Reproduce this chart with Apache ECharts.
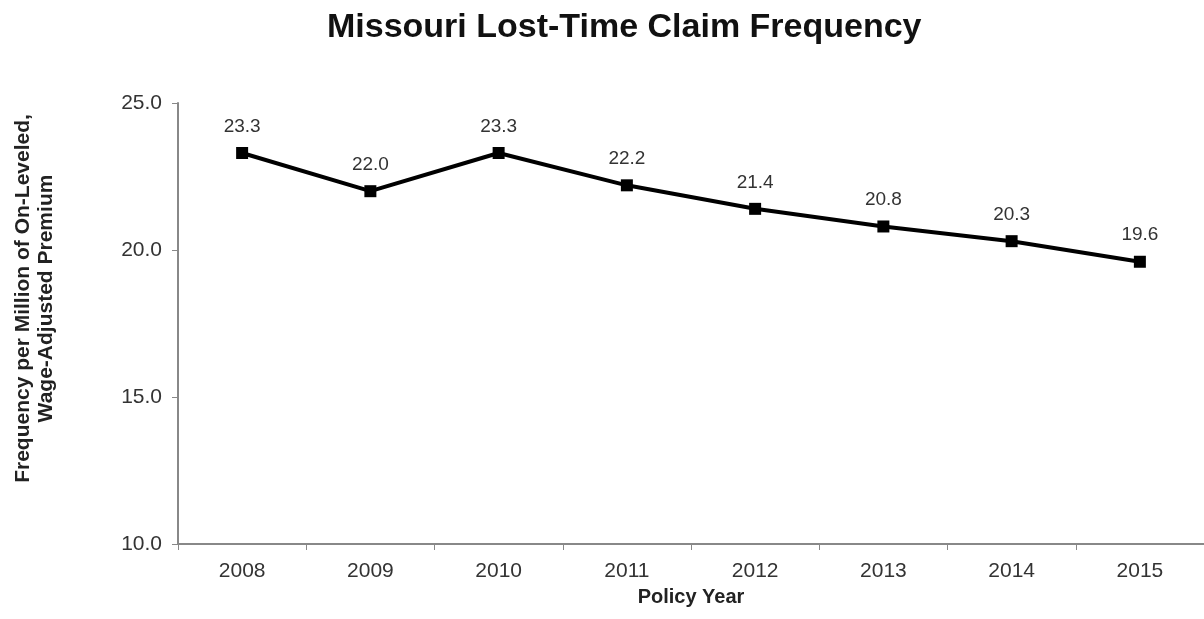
<!DOCTYPE html>
<html>
<head>
<meta charset="utf-8">
<script src="https://cdn.jsdelivr.net/npm/echarts@6/dist/echarts.min.js"></script>
<style>html,body{margin:0;padding:0;background:#fff;overflow:hidden;}#c{width:1204px;height:619px;}</style>
</head>
<body>
<div id="c"></div>
<script>
const years = ['2008','2009','2010','2011','2012','2013','2014','2015'];
const frequency = [23.3, 22.0, 23.3, 22.2, 21.4, 20.8, 20.3, 19.6];
const yTicks = { min: 10, max: 25, interval: 5 };
const titleText = 'Missouri Lost-Time Claim Frequency';
const yName = 'Frequency per Million of On-Leveled,\nWage-Adjusted Premium';
const xName = 'Policy Year';

const chart = echarts.init(document.getElementById('c'), null, {renderer: 'canvas'});
const font = 'Liberation Sans, Arial, sans-serif';
chart.setOption({
  animation: false,
  backgroundColor: '#fff',
  title: {
    text: titleText, left: 322, top: 6,
    textStyle: { fontFamily: font, fontSize: 34, fontWeight: 'bold', color: '#111' }
  },
  grid: { left: 178, right: 0, top: 103, bottom: 75, containLabel: false, outerBoundsMode: 'none' },
  xAxis: {
    type: 'category', data: years, boundaryGap: true,
    name: xName, nameLocation: 'middle', nameGap: 43,
    nameTextStyle: { fontFamily: font, fontSize: 20, fontWeight: 'bold', color: '#222' },
    axisLine: { lineStyle: { color: '#888', width: 2 } },
    axisTick: { show: true, length: 6, lineStyle: { color: '#888' } },
    axisLabel: { fontFamily: font, fontSize: 21, color: '#333', margin: 17 }
  },
  yAxis: {
    type: 'value', min: yTicks.min, max: yTicks.max, interval: yTicks.interval,
    name: yName, nameLocation: 'middle', nameRotate: 90, nameGap: 120,
    nameTextStyle: { fontFamily: font, fontSize: 21, fontWeight: 'bold', color: '#222', lineHeight: 23, align: 'center', padding: [0, 0, 0, 50] },
    splitLine: { show: false },
    axisLine: { show: true, lineStyle: { color: '#888', width: 2 } },
    axisTick: { show: true, length: 6, lineStyle: { color: '#888' } },
    axisLabel: { fontFamily: font, fontSize: 21, color: '#333', margin: 16, formatter: v => v.toFixed(1) }
  },
  series: [{
    type: 'line', data: frequency,
    symbol: 'rect', symbolSize: 12,
    lineStyle: { color: '#000', width: 4 },
    itemStyle: { color: '#000' },
    label: { show: true, position: 'top', distance: 11, fontFamily: font, fontSize: 19, color: '#333', formatter: p => p.value.toFixed(1) }
  }]
});
</script>
</body>
</html>
